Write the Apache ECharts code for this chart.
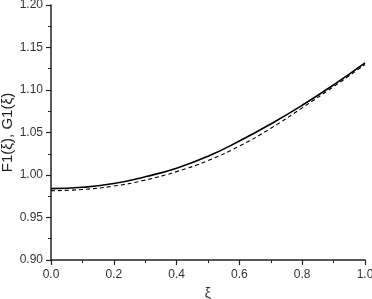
<!DOCTYPE html>
<html><head><meta charset="utf-8">
<script src="https://cdn.jsdelivr.net/npm/echarts@6/dist/echarts.min.js"></script>
<style>html,body{margin:0;padding:0;background:#fff}#c{width:372px;height:299px}</style>
</head><body><div id="c"></div>
<script>
var xs = [0, 0.1, 0.2, 0.3, 0.4, 0.5, 0.6, 0.7, 0.8, 0.9, 1.0];
var F1 = [0.984, 0.9855, 0.990, 0.998, 1.008, 1.022, 1.040, 1.060, 1.082, 1.106, 1.132];
var G1 = [0.9815, 0.983, 0.987, 0.994, 1.004, 1.017, 1.034, 1.055, 1.079, 1.104, 1.130];
var xTicks = ['0.0','0.2','0.4','0.6','0.8','1.0'];
var yTicks = ['0.90','0.95','1.00','1.05','1.10','1.15','1.20'];

function pairs(a){ return xs.map(function(x,i){ return [x, a[i]]; }); }
var font = 'Liberation Sans, Arial, sans-serif';
var axisCol = '#222';
var chart = echarts.init(document.getElementById('c'), null, {renderer:'canvas'});
chart.setOption({
  animation:false,
  grid:{left:51, right:7, top:5, bottom:39, containLabel:false, outerBoundsMode:'none'},
  xAxis:{
    type:'value', min:0, max:1, interval:0.2,
    name:'ξ', nameLocation:'middle', nameGap:27, nameMoveOverlap:false,
    nameTextStyle:{fontFamily:font, fontSize:14, color:'#333'},
    axisLine:{show:true, onZero:false, lineStyle:{color:axisCol, width:1.5}},
    axisTick:{show:true, inside:false, length:5, lineStyle:{color:axisCol, width:1.2}},
    minorTick:{show:true, splitNumber:2, length:3, lineStyle:{color:axisCol, width:1}},
    splitLine:{show:false},
    axisLabel:{fontFamily:font, fontSize:12, color:'#333', margin:9,
      formatter:function(v){ return xTicks[Math.round(v/0.2)]; }}
  },
  yAxis:{
    type:'value', min:0.9, max:1.2, interval:0.05,
    name:'F1(ξ), G1(ξ)', nameLocation:'middle', nameGap:36, nameRotate:90, nameMoveOverlap:false,
    nameTextStyle:{fontFamily:font, fontSize:15, color:'#222'},
    axisLine:{show:true, onZero:false, lineStyle:{color:axisCol, width:1.5}},
    axisTick:{show:true, inside:false, length:5, lineStyle:{color:axisCol, width:1.2}},
    minorTick:{show:true, splitNumber:2, length:3, lineStyle:{color:axisCol, width:1}},
    splitLine:{show:false},
    axisLabel:{fontFamily:font, fontSize:12, color:'#333', margin:8,
      formatter:function(v){ return yTicks[Math.round((v-0.9)/0.05)]; }}
  },
  series:[
    {type:'line', data:pairs(F1), smooth:true, showSymbol:false, symbol:'none',
     lineStyle:{color:'#000', width:1.6, type:'solid'}},
    {type:'line', data:pairs(G1), smooth:true, showSymbol:false, symbol:'none',
     lineStyle:{color:'#000', width:1.1, type:[4,3]}}
  ]
});
</script></body></html>
